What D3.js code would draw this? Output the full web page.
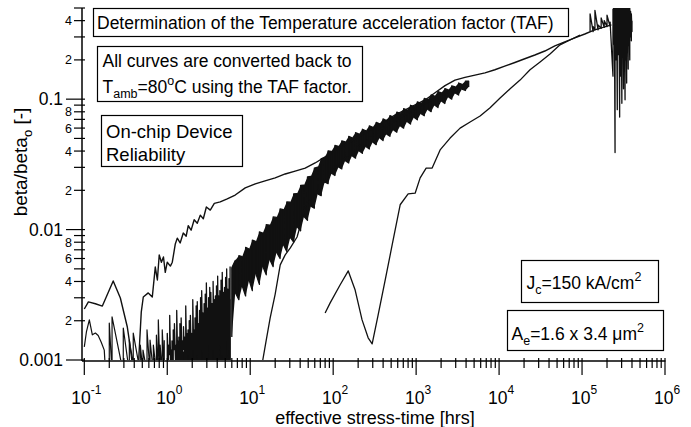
<!DOCTYPE html>
<html><head><meta charset="utf-8">
<script src="https://cdn.jsdelivr.net/npm/d3@7"></script>
<style>
body{margin:0;background:#fff}
svg{display:block}
text{font-family:"Liberation Sans",Arial,Helvetica,sans-serif;fill:#000}
</style>
</head><body>
<svg id="c" width="691" height="427"></svg>
<script>
// ---------------- data ----------------
const xTickExponents = [-1, 0, 1, 2, 3, 4, 5, 6];
const yMajorTicks = [0.001, 0.01, 0.1];
const yMajorLabels = ["0.001", "0.01", "0.1"];
const yMinorLabelDigits = [2, 4, 6, 8];
const xTitle = "effective stress-time [hrs]";

// curve starting at 0.1 h (upper, thin) running to the top right
const curveA = [[0.1,0.00246],[0.112,0.00279],[0.136,0.0027],[0.165,0.00259],[0.223,0.00404],[0.272,0.00299],[0.33,0.00179],[0.358,0.00126],[0.4,0.00087],[0.447,0.00087],[0.486,0.00233],[0.514,0.00304],[0.59,0.00327],[0.66,0.00304],[0.717,0.00516],[0.76,0.00411],[0.8,0.00638],[0.85,0.00562],[0.9,0.00616],[0.946,0.0047],[1.0,0.00562],[1.09,0.00525],[1.15,0.00562],[1.25,0.00776],[1.32,0.0086],[1.43,0.0079],[1.56,0.0094],[1.69,0.0089],[1.79,0.0107],[1.94,0.0099],[2.11,0.0119],[2.3,0.0112],[2.5,0.0129],[2.72,0.0121],[2.96,0.0149],[3.3,0.0141],[3.69,0.0159],[4.35,0.0163],[5.28,0.0172],[6.59,0.0184],[8.71,0.0209],[11.5,0.0224],[15.1,0.0236],[20,0.0249],[26.4,0.0267],[34.8,0.0281],[46,0.0296],[60.6,0.0324],[80,0.0361],[105,0.0401],[139,0.0446],[184,0.0496],[242,0.0551],[320,0.0612],[424,0.068],[560,0.0757],[738,0.0827],[973,0.0904],[1280,0.0986],[1690,0.112],[2230,0.127],[2940,0.14],[3880,0.147],[5120,0.153],[6760,0.159],[8900,0.168],[11700,0.179],[15500,0.191],[20400,0.204],[27000,0.218],[35600,0.234],[47000,0.256],[62000,0.275],[81700,0.295],[108000,0.316],[142000,0.34],[188000,0.358],[226000,0.371]];

// thin curve starting at ~13 h
const curveC = [[13.2,0.00077],[15.6,0.00142],[17.4,0.0021],[20,0.0032],[23,0.00536],[26.4,0.0064],[30.3,0.0072],[36.7,0.00877],[42,0.0119],[46,0.0149],[52.8,0.0169],[65.5,0.0201],[82,0.024],[105,0.0296],[139,0.0355],[211,0.0443],[368,0.0581],[642,0.0718],[1118,0.0888],[1946,0.106],[2940,0.12],[4200,0.13]];

// thin curve starting at ~80 h (right-most)
const curveD = [[80,0.00229],[92,0.00274],[121,0.00376],[152,0.00482],[184,0.00344],[223,0.00203],[264,0.00148],[295,0.00133],[348,0.00221],[424,0.00411],[514,0.00762],[642,0.0155],[801,0.0188],[973,0.019],[1118,0.0249],[1320,0.0296],[1560,0.0296],[1946,0.0408],[2568,0.0503],[3388,0.06],[4472,0.0668],[5903,0.0743],[7791,0.086],[10280,0.102],[13580,0.12],[17900,0.14],[23600,0.168],[31200,0.193],[41100,0.222],[54300,0.261],[71600,0.284],[94600,0.31]];

// noisy trace at the very start
const startNoise = [[0.1,0.00126],[0.106,0.00164],[0.115,0.00203],[0.125,0.00156],[0.136,0.00161],[0.147,0.00154],[0.16,0.00137],[0.174,0.00119],[0.179,0.00087]];

// noisy records [hours, low, high]
const sparseSpikes = [[0.2,0.0008,0.00192],[0.216,0.0008,0.00214],[0.295,0.0008,0.00176],[0.349,0.0008,0.00142],[0.389,0.0008,0.00161],[0.473,0.0008,0.0013],[0.51,0.0008,0.00119],[0.57,0.0008,0.0017],[0.62,0.0008,0.00142],[0.68,0.0008,0.0013],[0.74,0.0008,0.00155],[0.78,0.0008,0.00203],[0.82,0.0008,0.0013],[0.87,0.0008,0.0017],[0.92,0.0008,0.00142]];

const spikeRows = [[1.0,0.0009,0.0016],[1.035,0.0009,0.0013],[1.07,0.0011,0.0022],[1.1,0.0009,0.0012],[1.14,0.0009,0.0014],[1.18,0.0009,0.0017],[1.22,0.0012,0.0019],[1.26,0.0009,0.0013],[1.3,0.0009,0.0024],[1.34,0.0009,0.0014],[1.38,0.001,0.0015],[1.42,0.0009,0.0019],[1.47,0.0009,0.0021],[1.52,0.0009,0.0014],[1.57,0.0012,0.0018],[1.62,0.0009,0.0015],[1.67,0.0009,0.0026],[1.72,0.0009,0.0016],[1.78,0.0011,0.0017],[1.84,0.0009,0.002],[1.9,0.0009,0.0022],[1.96,0.0009,0.0016],[2.03,0.0012,0.0029],[2.1,0.0009,0.0017],[2.16,0.0009,0.0021],[2.23,0.0009,0.0026],[2.3,0.0011,0.0028],[2.37,0.0009,0.0019],[2.45,0.0009,0.0024],[2.52,0.0009,0.003],[2.6,0.0012,0.0034],[2.69,0.0009,0.0023],[2.78,0.001,0.0027],[2.87,0.0009,0.0032],[2.96,0.0009,0.0039],[3.05,0.0009,0.0025],[3.15,0.0013,0.003],[3.25,0.0009,0.0036],[3.35,0.0009,0.0033],[3.46,0.0009,0.0027],[3.57,0.0012,0.004],[3.68,0.0009,0.0029],[3.8,0.001,0.0031],[3.92,0.0009,0.0037],[4.05,0.0009,0.0044],[4.17,0.0009,0.0031],[4.3,0.0013,0.0034],[4.45,0.0009,0.0041],[4.6,0.0011,0.0047],[4.75,0.0009,0.0033],[4.9,0.0009,0.0036],[5.05,0.0009,0.0043],[5.2,0.0014,0.005],[5.37,0.0009,0.0035],[5.55,0.0012,0.0042],[5.72,0.0009,0.0052]];

// dense floor of the early noise [hours, top]
const denseFloor = [[1.2,0.00098],[1.4,0.00108],[1.6,0.00118],[1.8,0.00135],[2.0,0.0016],[2.3,0.0018],[2.6,0.002],[3.0,0.0022],[3.5,0.0024],[4.0,0.0026],[4.5,0.0028],[5.0,0.003],[5.5,0.0031],[5.8,0.0029]];

const bandRows = [[6.0,0.0015,0.0051],[6.6,0.0033,0.0058],[7.3,0.0029,0.0063],[8.0,0.0037,0.0062],[8.8,0.0031,0.0073],[9.7,0.0041,0.0071],[10.6,0.0034,0.0083],[11.7,0.0046,0.0081],[12.9,0.0038,0.0096],[14.2,0.0052,0.0094],[15.6,0.0045,0.0109],[17.2,0.0059,0.0108],[18.9,0.0052,0.0125],[20.8,0.0067,0.0124],[22.9,0.006,0.0144],[25.1,0.0077,0.0142],[27.6,0.0068,0.0163],[30.4,0.0087,0.0162],[33.4,0.008,0.0188],[36.8,0.0105,0.0189],[40.5,0.0098,0.0218],[44.5,0.0126,0.0219],[49,0.0118,0.0253],[53.9,0.0151,0.0256],[59.3,0.0146,0.0296],[65.2,0.0188,0.0301],[71.7,0.0182,0.035],[78.9,0.0232,0.0355],[86.8,0.0225,0.0402],[95.5,0.027,0.0398],[105,0.026,0.0442],[116,0.0302,0.0435],[127,0.0292,0.0479],[140,0.0338,0.047],[154,0.0324,0.0518],[169,0.0369,0.0505],[186,0.0353,0.0553],[205,0.0403,0.054],[225,0.0384,0.0588],[248,0.0434,0.0572],[273,0.0415,0.0625],[300,0.047,0.0608],[330,0.0448,0.0664],[363,0.0505,0.0646],[399,0.0482,0.0705],[439,0.0542,0.0686],[483,0.0519,0.0749],[531,0.0583,0.073],[585,0.0558,0.0796],[643,0.0626,0.0778],[707,0.0599,0.0846],[778,0.0674,0.0826],[856,0.0645,0.0898],[941,0.0726,0.0878],[1035,0.0694,0.0954],[1139,0.0776,0.093],[1253,0.0746,0.1012],[1378,0.0838,0.0992],[1516,0.0802,0.1077],[1668,0.0902,0.1055],[1834,0.0862,0.1144],[2018,0.0968,0.1118],[2220,0.0927,0.1205],[2442,0.1042,0.1177],[2686,0.1,0.1266],[2954,0.1116,0.124],[3250,0.1075,0.133],[3575,0.1195,0.13],[3930,0.1165,0.1375],[4300,0.1238,0.1372]];

const topNoise = [[125000,0.33,0.45],[136000,0.33,0.36],[143000,0.34,0.48],[156000,0.34,0.37],[170000,0.35,0.42],[185000,0.355,0.4],[200000,0.36,0.44],[218000,0.36,0.39],[236000,0.15,0.49],[240000,0.3,0.5],[245000,0.26,0.5],[250000,0.039,0.5],[255000,0.2,0.5],[261000,0.3,0.5],[266000,0.083,0.5],[272000,0.22,0.5],[278000,0.25,0.5],[284000,0.073,0.5],[290000,0.15,0.5],[296000,0.26,0.5],[302000,0.093,0.5],[309000,0.21,0.5],[316000,0.12,0.5],[323000,0.27,0.5],[330000,0.099,0.5],[338000,0.2,0.5],[345000,0.133,0.5],[352000,0.28,0.5],[360000,0.17,0.5],[368000,0.26,0.5],[376000,0.2,0.5],[385000,0.3,0.47],[393000,0.28,0.45],[400000,0.33,0.4]];

// ---------------- drawing ----------------
const svg = d3.select("#c");
const x = d3.scaleLog().domain([0.0938, 1e6]).range([82, 665]);
const y = d3.scaleLog().domain([0.001, 0.5]).range([360, 8]);
const FONT = 17.5;

svg.append("defs").append("clipPath").attr("id","pc").append("rect")
  .attr("x", x.range()[0]).attr("y", y.range()[1])
  .attr("width", x.range()[1]-x.range()[0]).attr("height", y.range()[0]-y.range()[1]);

const plot = svg.append("g").attr("clip-path","url(#pc)");
const line = d3.line().x(d=>x(d[0])).y(d=>y(d[1]));
const area = d3.area().x(d=>x(d[0])).y0(d=>y(d[1])).y1(d=>y(d[2]));
const floorArea = d3.area().x(d=>x(d[0])).y0(y.range()[0]+2).y1(d=>y(d[1]));
const zig = rows => rows.flatMap((r,i)=> i%2 ? [[r[0],r[2]],[r[0],r[1]]] : [[r[0],r[1]],[r[0],r[2]]]);
const saw = rows => rows.flatMap(r=> [[r[0],r[1]],[r[0],r[2]]]);

const strokeStyle = sel => sel.attr("fill","none").attr("stroke","#111").attr("stroke-linejoin","round");
strokeStyle(plot.append("path").attr("d", line(startNoise.concat(saw(sparseSpikes))))).attr("stroke-width",1.2);
plot.append("path").attr("d", floorArea(denseFloor)).attr("fill","#111");
strokeStyle(plot.append("path").attr("d", line(saw(spikeRows)))).attr("stroke-width",1.3);
plot.append("path").attr("d", area(bandRows)).attr("fill","#111");
strokeStyle(plot.append("path").attr("d", line(zig(bandRows)))).attr("stroke-width",1.3);
strokeStyle(plot.append("path").attr("d", line(curveA))).attr("stroke-width",1.4);
strokeStyle(plot.append("path").attr("d", line(curveC))).attr("stroke-width",1.3);
strokeStyle(plot.append("path").attr("d", line(curveD))).attr("stroke-width",1.3);
strokeStyle(plot.append("path").attr("d", line(saw(topNoise)))).attr("stroke-width",1.3);

// ---- axes ----
const ax = svg.append("g").attr("stroke","#000");
const x0 = x.range()[0], yb = y.range()[0];
ax.append("line").attr("x1",x0).attr("x2",x0).attr("y1",y.range()[1]).attr("y2",yb+1).attr("stroke-width",1.5);
ax.append("line").attr("x1",x0).attr("x2",x.range()[1]+0.5).attr("y1",yb+1).attr("y2",yb+1).attr("stroke-width",1.5);

const isPow10 = v => Math.abs(Math.log10(v) - Math.round(Math.log10(v))) < 1e-9;
const lead = v => Math.round(v / Math.pow(10, Math.floor(Math.log10(v)+1e-9)));

x.ticks().filter(v => v >= 0.1*0.999).forEach(v=>{
  const px = x(v), major = isPow10(v);
  ax.append("line").attr("x1",px).attr("x2",px).attr("y1",yb-2).attr("y2",yb+(major?15:8)).attr("stroke-width",1.2);
});
y.ticks().forEach(v=>{
  const py = y(v), major = isPow10(v);
  ax.append("line").attr("x1",major?66:74).attr("x2",x0+3).attr("y1",py).attr("y2",py).attr("stroke-width",1.2);
});

const tl = svg.append("g");
xTickExponents.forEach(e=>{
  const t = tl.append("text").attr("x", x(Math.pow(10,e))+2).attr("y", 404)
    .attr("text-anchor","middle").attr("font-size",FONT);
  t.append("tspan").text("10");
  t.append("tspan").attr("dy",-10).attr("font-size",12).text(String(e));
});
yMajorTicks.forEach((v,i)=>{
  tl.append("text").attr("x",63).attr("y",y(v)+6).attr("text-anchor","end").attr("font-size",FONT).text(yMajorLabels[i]);
});
y.ticks().filter(v=>!isPow10(v) && yMinorLabelDigits.includes(lead(v))).forEach(v=>{
  tl.append("text").attr("x",72).attr("y",y(v)+4.5).attr("text-anchor","end").attr("font-size",12.5).text(lead(v));
});

// axis titles
tl.append("text").attr("x",375).attr("y",423.5).attr("text-anchor","middle").attr("font-size",18).text(xTitle);
const yt = tl.append("text").attr("transform","translate(27,162) rotate(-90)").attr("text-anchor","middle").attr("font-size",19);
yt.append("tspan").text("beta/beta");
yt.append("tspan").attr("dy",5).attr("font-size",13).text("o");
yt.append("tspan").attr("dy",-5).text(" [-]");

// ---- annotation boxes ----
function richText(g, xx, yy, parts, size){
  const t = g.append("text").attr("x",xx).attr("y",yy).attr("font-size",size);
  let shift = 0;
  parts.forEach(p=>{
    const [str, mode] = typeof p === "string" ? [p,"n"] : p;
    const target = mode==="sub" ? 5 : mode==="sup" ? -8 : 0;
    const s = t.append("tspan").attr("dy", target - shift).text(str);
    if (mode !== "n") s.attr("font-size", 12.5);
    shift = target;
  });
  return t;
}
const ann = svg.append("g");
function box(x1,y1,w,h){ ann.append("rect").attr("x",x1).attr("y",y1).attr("width",w).attr("height",h).attr("fill","#fff").attr("stroke","#000").attr("stroke-width",1.2); }

box(93.5,8.5,475,28);
richText(ann,97,28.5,["Determination of the Temperature acceleration factor (TAF)"],FONT);

box(97.5,46.5,265,55);
richText(ann,102.5,66.5,["All curves are converted back to"],FONT);
richText(ann,102.5,93,["T",["amb","sub"],"=80",["o","sup"],"C using the TAF factor."],FONT);

box(101.5,115.5,141,51);
richText(ann,106,138,["On-chip Device"],18.5);
richText(ann,106,161,["Reliability"],18.5);

box(521.5,260.5,137,42);
richText(ann,526.5,289,["J",["c","sub"],"=150 kA/cm",["2","sup"]],FONT);

box(507.5,310.5,156,40);
richText(ann,511.5,340,["A",["e","sub"],"=1.6 x 3.4 \u03bcm",["2","sup"]],FONT);
</script>
</body></html>
